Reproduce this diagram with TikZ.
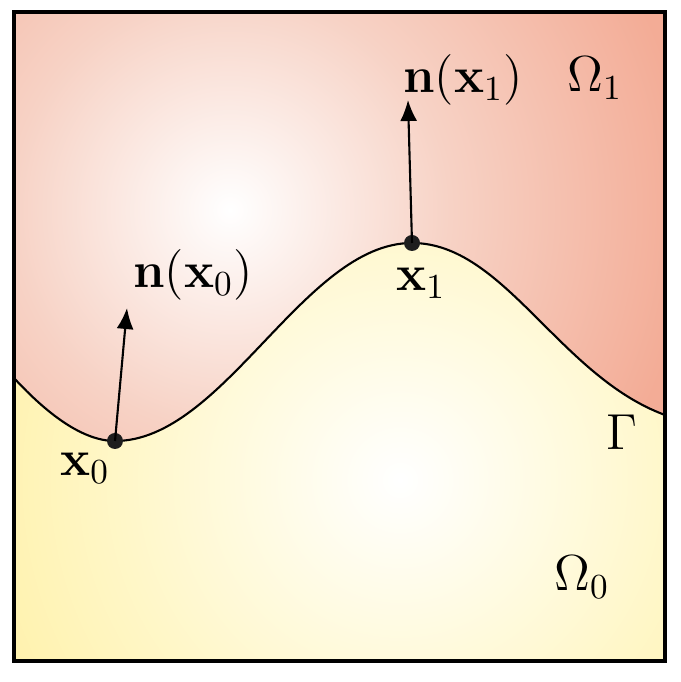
\documentclass[tikz,border=0pt]{standalone}
\usepackage{amsmath,amssymb}
\usetikzlibrary{arrows.meta,positioning}
\definecolor{regionPink}{RGB}{243,172,150}
\definecolor{regionPinkMid}{RGB}{247,210,197}
\definecolor{regionYellow}{RGB}{255,242,175}
\definecolor{regionYellowMid}{RGB}{255,247,200}
\definecolor{dotDark}{RGB}{30,30,30}

\pgfdeclareradialshading{pinkglow}{\pgfpoint{0bp}{0bp}}{color(0bp)=(white); color(11bp)=(regionPinkMid); color(23bp)=(regionPink); color(50bp)=(regionPink)}
\pgfdeclareradialshading{yellowglow}{\pgfpoint{0bp}{0bp}}{color(0bp)=(white); color(14bp)=(regionYellowMid); color(21bp)=(regionYellow); color(50bp)=(regionYellow)}

\tikzset{
  ptdot/.style={circle, fill=dotDark, inner sep=0pt, minimum size=0.16cm},
  normalarrow/.style={line width=0.6pt, -{Latex[length=2.1mm,width=1.7mm]}},
  lbl/.style={font=\fontsize{13.8}{16}\selectfont, inner sep=1pt}
}

% interface curve Gamma
\newcommand{\gammacurve}{(0,2.83) .. controls (0.35,2.45) and (0.7,2.20) .. (1.01,2.20)
  .. controls (2.1,2.20) and (2.9,4.18) .. (3.98,4.18)
  .. controls (4.9,4.18) and (5.45,2.85) .. (6.51,2.46)}

\begin{document}
\begin{tikzpicture}[x=1.0cm,y=1.0cm]
\useasboundingbox (-0.14,-0.21) rectangle (6.66,6.61);

% =========================
% Regions
% =========================
\begin{scope}
    \clip (0,6.49) -- \gammacurve -- (6.51,6.49) -- cycle;
    \shade[shading=pinkglow] (2.16,4.51) circle (5);
\end{scope}
\begin{scope}
    \clip (0,0) -- \gammacurve -- (6.51,0) -- cycle;
    \shade[shading=yellowglow] (3.86,1.81) circle (5);
\end{scope}

\draw[line width=0.6pt] \gammacurve;
\draw[line width=0.9pt] (0,0) rectangle (6.51,6.49);

% =========================
% Points and normals
% =========================
\node[ptdot] (x0) at (1.01,2.20) {};
\node[ptdot] (x1) at (3.98,4.18) {};
\coordinate (n0tip) at (1.13,3.53);
\coordinate (n1tip) at (3.94,5.61);

\draw[normalarrow] (x0.center) -- (n0tip);
\draw[normalarrow] (x1.center) -- (n1tip);

% labels
\node[lbl] (x0lbl) at (0.71,1.93) {$\mathbf{x}_0$};
\node[lbl] (x1lbl) at (4.07,3.78) {$\mathbf{x}_1$};
\node[lbl] (n0lbl) at (1.79,3.86) {$\mathbf{n}(\mathbf{x}_0)$};
\node[lbl] (n1lbl) at (4.49,5.81) {$\mathbf{n}(\mathbf{x}_1)$};
\node[lbl] (om1) at (5.81,5.83) {$\Omega_1$};
\node[lbl] (om0) at (5.68,0.84) {$\Omega_0$};
\node[lbl] (gam) at (6.08,2.29) {$\Gamma$};

\end{tikzpicture}
\end{document}
